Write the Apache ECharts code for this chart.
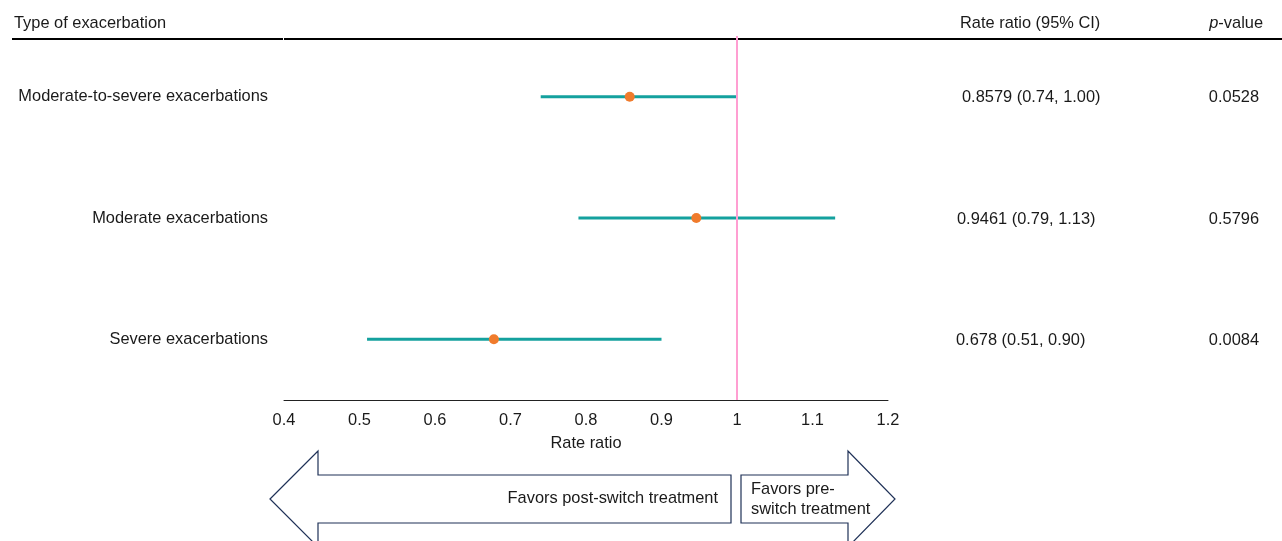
<!DOCTYPE html>
<html>
<head>
<meta charset="utf-8">
<script src="https://cdn.jsdelivr.net/npm/echarts@6/dist/echarts.min.js"></script>
<style>
html,body{margin:0;padding:0;background:#fff;}
#chart{width:1282px;height:541px;}
</style>
</head>
<body>
<div id="chart"></div>
<script>
// ---- data ----
const categories = ['Moderate-to-severe exacerbations', 'Moderate exacerbations', 'Severe exacerbations'];
const estimates = [0.8579, 0.9461, 0.678];
const ciLow = [0.74, 0.79, 0.51];
const ciHigh = [1.00, 1.13, 0.90];
const ciLabels = ['0.8579 (0.74, 1.00)', '0.9461 (0.79, 1.13)', '0.678 (0.51, 0.90)'];
const pValues = ['0.0528', '0.5796', '0.0084'];
const referenceValue = 1;
const xMin = 0.4, xMax = 1.2, xStep = 0.1;

const FONT = 'Liberation Sans, Arial, sans-serif';
const FS = 16.4;
const TXT = '#1a1a1a';
const chart = echarts.init(document.getElementById('chart'), null, {renderer: 'canvas'});

const ciData = categories.map((c, i) => [ciLow[i], ciHigh[i], i]);
const pointData = categories.map((c, i) => [estimates[i], i]);
const ciX = [962, 957, 956];

const navy = '#1f3157';

chart.setOption({
  animation: false,
  grid: {left: 284, top: 36, width: 604, height: 364, containLabel: false},
  xAxis: {
    type: 'value', min: xMin, max: xMax, interval: xStep,
    axisLine: {show: true, lineStyle: {color: '#222', width: 1}},
    axisTick: {show: false},
    splitLine: {show: false},
    axisLabel: {fontFamily: FONT, fontSize: FS, color: TXT, margin: 12,
      formatter: v => String(Math.round(v * 10) / 10)},
    name: 'Rate ratio', nameLocation: 'middle', nameGap: 35,
    nameTextStyle: {fontFamily: FONT, fontSize: FS, color: TXT}
  },
  yAxis: {
    type: 'category', data: categories, inverse: true,
    axisLine: {show: false}, axisTick: {show: false}, splitLine: {show: false},
    axisLabel: {fontFamily: FONT, fontSize: FS, color: TXT, margin: 16, padding: [2, 0, 0, 0]}
  },
  series: [
    {
      type: 'custom',
      data: ciData,
      clip: false,
      renderItem: (params, api) => {
        const i = api.value(2);
        const p1 = api.coord([api.value(0), i]);
        const p2 = api.coord([api.value(1), i]);
        return {
          type: 'group',
          children: [
            {type: 'line', shape: {x1: p1[0], y1: p1[1], x2: p2[0], y2: p2[1]},
             style: {stroke: '#14a19e', lineWidth: 3}},
            {type: 'text', style: {x: ciX[i], y: p1[1] + 1, text: ciLabels[i], fill: TXT,
             font: FS + 'px ' + FONT, textAlign: 'left', textVerticalAlign: 'middle'}},
            {type: 'text', style: {x: 1259, y: p1[1] + 1, text: pValues[i], fill: TXT,
             font: FS + 'px ' + FONT, textAlign: 'right', textVerticalAlign: 'middle'}}
          ]
        };
      },
      markLine: {
        silent: true, symbol: 'none', label: {show: false},
        lineStyle: {color: '#ff9fd2', width: 2, type: 'solid'},
        data: [{xAxis: referenceValue}]
      },
      z: 2
    },
    {
      type: 'scatter', data: pointData, symbol: 'circle', symbolSize: 10,
      itemStyle: {color: '#f07b2c', opacity: 1}, z: 5
    }
  ],
  graphic: [
    {type: 'line', shape: {x1: 12, y1: 39, x2: 283, y2: 39}, style: {stroke: '#000', lineWidth: 2}},
    {type: 'line', shape: {x1: 284, y1: 39, x2: 1282, y2: 39}, style: {stroke: '#000', lineWidth: 2}},
    {type: 'text', style: {x: 14, y: 23, text: 'Type of exacerbation', fill: TXT,
      font: FS + 'px ' + FONT, textVerticalAlign: 'middle'}},
    {type: 'text', style: {x: 960, y: 23, text: 'Rate ratio (95% CI)', fill: TXT,
      font: FS + 'px ' + FONT, textVerticalAlign: 'middle'}},
    {type: 'text', style: {x: 1263, y: 23, text: '{i|p}-value', fill: TXT,
      font: FS + 'px ' + FONT, align: 'right', verticalAlign: 'middle',
      rich: {i: {fontStyle: 'italic', fontFamily: FONT, fontSize: FS, fill: TXT}}}},
    {type: 'polygon', shape: {points: [[270, 499], [318, 451], [318, 475], [731, 475], [731, 523], [318, 523], [318, 547]]},
      style: {fill: '#fff', stroke: navy, lineWidth: 1.2}},
    {type: 'polygon', shape: {points: [[741, 475], [848, 475], [848, 451], [895, 499], [848, 547], [848, 523], [741, 523]]},
      style: {fill: '#fff', stroke: navy, lineWidth: 1.2}},
    {type: 'text', style: {x: 718, y: 498, text: 'Favors post-switch treatment', fill: TXT,
      font: FS + 'px ' + FONT, textAlign: 'right', textVerticalAlign: 'middle'}},
    {type: 'text', style: {x: 751, y: 489, text: 'Favors pre-', fill: TXT,
      font: FS + 'px ' + FONT, textAlign: 'left', textVerticalAlign: 'middle'}},
    {type: 'text', style: {x: 751, y: 509, text: 'switch treatment', fill: TXT,
      font: FS + 'px ' + FONT, textAlign: 'left', textVerticalAlign: 'middle'}}
  ]
});
</script>
</body>
</html>
